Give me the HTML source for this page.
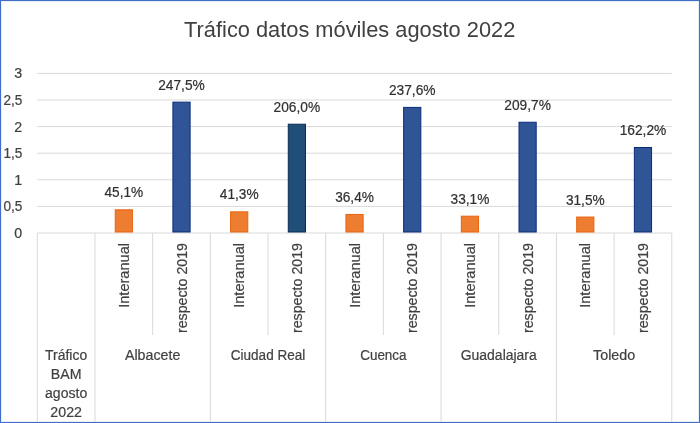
<!DOCTYPE html>
<html><head><meta charset="utf-8"><style>
html,body{margin:0;padding:0;background:#fff;}
#c{position:relative;width:700px;height:423px;overflow:hidden;}
svg{position:absolute;left:0;top:0;will-change:transform;}
text{font-family:"Liberation Sans", Arial, sans-serif;stroke-width:0.2px;paint-order:stroke;}
.title{font-size:21.8px;fill:#404040;}
.ax{font-size:14.0px;fill:#404040;stroke:#404040;}
.dl{font-size:14.0px;fill:#303030;stroke:#303030;}
.cat{font-size:14.0px;fill:#404040;stroke:#404040;}
</style></head><body><div id="c">
<svg width="700" height="423" viewBox="0 0 700 423">
<rect x="0" y="0" width="700" height="423" fill="#fff"/>
<line x1="37.30" y1="206.40" x2="671.80" y2="206.40" stroke="#d9d9d9" stroke-width="1"/>
<line x1="37.30" y1="179.80" x2="671.80" y2="179.80" stroke="#d9d9d9" stroke-width="1"/>
<line x1="37.30" y1="153.20" x2="671.80" y2="153.20" stroke="#d9d9d9" stroke-width="1"/>
<line x1="37.30" y1="126.60" x2="671.80" y2="126.60" stroke="#d9d9d9" stroke-width="1"/>
<line x1="37.30" y1="100.00" x2="671.80" y2="100.00" stroke="#d9d9d9" stroke-width="1"/>
<line x1="37.30" y1="73.40" x2="671.80" y2="73.40" stroke="#d9d9d9" stroke-width="1"/>
<line x1="37.30" y1="233.00" x2="671.80" y2="233.00" stroke="#d9d9d9" stroke-width="1"/>
<text x="22.30" y="237.90" text-anchor="end" class="ax" textLength="7.91" lengthAdjust="spacingAndGlyphs">0</text>
<text x="22.30" y="211.30" text-anchor="end" class="ax" textLength="18.91" lengthAdjust="spacingAndGlyphs">0,5</text>
<text x="22.30" y="184.70" text-anchor="end" class="ax" textLength="7.91" lengthAdjust="spacingAndGlyphs">1</text>
<text x="22.30" y="158.10" text-anchor="end" class="ax" textLength="18.91" lengthAdjust="spacingAndGlyphs">1,5</text>
<text x="22.30" y="131.50" text-anchor="end" class="ax" textLength="7.91" lengthAdjust="spacingAndGlyphs">2</text>
<text x="22.30" y="104.90" text-anchor="end" class="ax" textLength="18.91" lengthAdjust="spacingAndGlyphs">2,5</text>
<text x="22.30" y="78.30" text-anchor="end" class="ax" textLength="7.91" lengthAdjust="spacingAndGlyphs">3</text>
<line x1="37.30" y1="233.00" x2="37.30" y2="421.5" stroke="#d9d9d9" stroke-width="1"/>
<line x1="94.98" y1="233.00" x2="94.98" y2="421.5" stroke="#d9d9d9" stroke-width="1"/>
<line x1="152.66" y1="233.00" x2="152.66" y2="335" stroke="#d9d9d9" stroke-width="1"/>
<line x1="210.35" y1="233.00" x2="210.35" y2="421.5" stroke="#d9d9d9" stroke-width="1"/>
<line x1="268.03" y1="233.00" x2="268.03" y2="335" stroke="#d9d9d9" stroke-width="1"/>
<line x1="325.71" y1="233.00" x2="325.71" y2="421.5" stroke="#d9d9d9" stroke-width="1"/>
<line x1="383.39" y1="233.00" x2="383.39" y2="335" stroke="#d9d9d9" stroke-width="1"/>
<line x1="441.07" y1="233.00" x2="441.07" y2="421.5" stroke="#d9d9d9" stroke-width="1"/>
<line x1="498.75" y1="233.00" x2="498.75" y2="335" stroke="#d9d9d9" stroke-width="1"/>
<line x1="556.44" y1="233.00" x2="556.44" y2="421.5" stroke="#d9d9d9" stroke-width="1"/>
<line x1="614.12" y1="233.00" x2="614.12" y2="335" stroke="#d9d9d9" stroke-width="1"/>
<line x1="671.80" y1="233.00" x2="671.80" y2="421.5" stroke="#d9d9d9" stroke-width="1"/>
<rect x="115.22" y="209.81" width="17.20" height="22.19" fill="#ed7d31" stroke="#e8640f" stroke-width="1"/>
<text x="123.82" y="197.31" text-anchor="middle" class="dl" textLength="38.75" lengthAdjust="spacingAndGlyphs">45,1%</text>
<text transform="translate(129.02,243) rotate(-90)" text-anchor="end" class="cat" textLength="64.81" lengthAdjust="spacingAndGlyphs">Interanual</text>
<rect x="172.90" y="102.13" width="17.20" height="129.87" fill="#2f5597" stroke="#0b2b78" stroke-width="1"/>
<text x="181.50" y="89.63" text-anchor="middle" class="dl" textLength="46.66" lengthAdjust="spacingAndGlyphs">247,5%</text>
<text transform="translate(186.70,243) rotate(-90)" text-anchor="end" class="cat" textLength="90.08" lengthAdjust="spacingAndGlyphs">respecto 2019</text>
<text x="152.66" y="360.00" text-anchor="middle" class="cat" textLength="55.36" lengthAdjust="spacingAndGlyphs">Albacete</text>
<rect x="230.59" y="211.83" width="17.20" height="20.17" fill="#ed7d31" stroke="#e8640f" stroke-width="1"/>
<text x="239.19" y="199.33" text-anchor="middle" class="dl" textLength="38.75" lengthAdjust="spacingAndGlyphs">41,3%</text>
<text transform="translate(244.39,243) rotate(-90)" text-anchor="end" class="cat" textLength="64.81" lengthAdjust="spacingAndGlyphs">Interanual</text>
<rect x="288.27" y="124.21" width="17.20" height="107.79" fill="#1f4e79" stroke="#0a2c55" stroke-width="1"/>
<text x="296.87" y="111.71" text-anchor="middle" class="dl" textLength="46.66" lengthAdjust="spacingAndGlyphs">206,0%</text>
<text transform="translate(302.07,243) rotate(-90)" text-anchor="end" class="cat" textLength="90.08" lengthAdjust="spacingAndGlyphs">respecto 2019</text>
<text x="268.03" y="360.00" text-anchor="middle" class="cat" textLength="74.47" lengthAdjust="spacingAndGlyphs">Ciudad Real</text>
<rect x="345.95" y="214.44" width="17.20" height="17.56" fill="#ed7d31" stroke="#e8640f" stroke-width="1"/>
<text x="354.55" y="201.94" text-anchor="middle" class="dl" textLength="38.75" lengthAdjust="spacingAndGlyphs">36,4%</text>
<text transform="translate(359.75,243) rotate(-90)" text-anchor="end" class="cat" textLength="64.81" lengthAdjust="spacingAndGlyphs">Interanual</text>
<rect x="403.63" y="107.40" width="17.20" height="124.60" fill="#2f5597" stroke="#0b2b78" stroke-width="1"/>
<text x="412.23" y="94.90" text-anchor="middle" class="dl" textLength="46.66" lengthAdjust="spacingAndGlyphs">237,6%</text>
<text transform="translate(417.43,243) rotate(-90)" text-anchor="end" class="cat" textLength="90.08" lengthAdjust="spacingAndGlyphs">respecto 2019</text>
<text x="383.39" y="360.00" text-anchor="middle" class="cat" textLength="46.41" lengthAdjust="spacingAndGlyphs">Cuenca</text>
<rect x="461.31" y="216.19" width="17.20" height="15.81" fill="#ed7d31" stroke="#e8640f" stroke-width="1"/>
<text x="469.91" y="203.69" text-anchor="middle" class="dl" textLength="38.75" lengthAdjust="spacingAndGlyphs">33,1%</text>
<text transform="translate(475.11,243) rotate(-90)" text-anchor="end" class="cat" textLength="64.81" lengthAdjust="spacingAndGlyphs">Interanual</text>
<rect x="519.00" y="122.24" width="17.20" height="109.76" fill="#2f5597" stroke="#0b2b78" stroke-width="1"/>
<text x="527.60" y="109.74" text-anchor="middle" class="dl" textLength="46.66" lengthAdjust="spacingAndGlyphs">209,7%</text>
<text transform="translate(532.80,243) rotate(-90)" text-anchor="end" class="cat" textLength="90.08" lengthAdjust="spacingAndGlyphs">respecto 2019</text>
<text x="498.75" y="360.00" text-anchor="middle" class="cat" textLength="76.00" lengthAdjust="spacingAndGlyphs">Guadalajara</text>
<rect x="576.68" y="217.04" width="17.20" height="14.96" fill="#ed7d31" stroke="#e8640f" stroke-width="1"/>
<text x="585.28" y="204.54" text-anchor="middle" class="dl" textLength="38.75" lengthAdjust="spacingAndGlyphs">31,5%</text>
<text transform="translate(590.48,243) rotate(-90)" text-anchor="end" class="cat" textLength="64.81" lengthAdjust="spacingAndGlyphs">Interanual</text>
<rect x="634.36" y="147.51" width="17.20" height="84.49" fill="#2f5597" stroke="#0b2b78" stroke-width="1"/>
<text x="642.96" y="135.01" text-anchor="middle" class="dl" textLength="46.66" lengthAdjust="spacingAndGlyphs">162,2%</text>
<text transform="translate(648.16,243) rotate(-90)" text-anchor="end" class="cat" textLength="90.08" lengthAdjust="spacingAndGlyphs">respecto 2019</text>
<text x="614.12" y="360.00" text-anchor="middle" class="cat" textLength="42.20" lengthAdjust="spacingAndGlyphs">Toledo</text>
<text x="66.14" y="360.00" text-anchor="middle" class="cat" textLength="42.08" lengthAdjust="spacingAndGlyphs">Tráfico</text>
<text x="66.14" y="379.00" text-anchor="middle" class="cat" textLength="30.69" lengthAdjust="spacingAndGlyphs">BAM</text>
<text x="66.14" y="398.00" text-anchor="middle" class="cat" textLength="42.16" lengthAdjust="spacingAndGlyphs">agosto</text>
<text x="66.14" y="417.00" text-anchor="middle" class="cat" textLength="31.62" lengthAdjust="spacingAndGlyphs">2022</text>
<text x="349.70" y="37.00" text-anchor="middle" class="title" textLength="331.17" lengthAdjust="spacingAndGlyphs">Tráfico datos móviles agosto 2022</text>
<rect x="1.5" y="1.5" width="697" height="420" fill="none" stroke="#3e6ec6" stroke-opacity="0.12" stroke-width="1"/>
<rect x="0.5" y="0.5" width="699" height="422" fill="none" stroke="#3e6ec6" stroke-width="1"/>
</svg></div></body></html>
